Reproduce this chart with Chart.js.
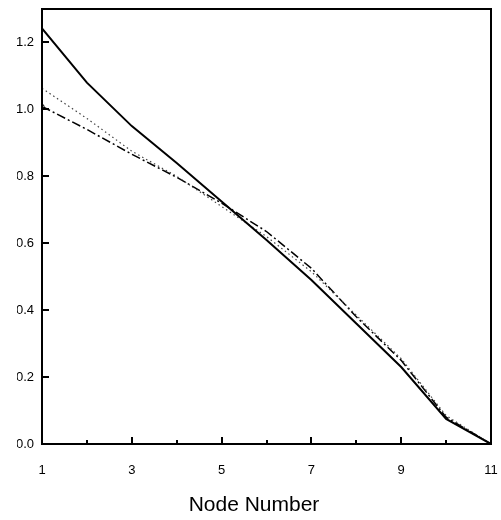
<!DOCTYPE html>
<html>
<head>
<meta charset="utf-8">
<script src="https://cdn.jsdelivr.net/npm/chart.js@4.4.1/dist/chart.umd.min.js"></script>
<style>
  body { margin: 0; background: #fff; }
  #grafico { display: block; }
</style>
</head>
<body>
<canvas id="grafico" width="501" height="520"></canvas>
<script>
const nodos = [1, 2, 3, 4, 5, 6, 7, 8, 9, 10, 11]
const serieSolida = [1.242, 1.08, 0.95, 0.84, 0.725, 0.61, 0.49, 0.36, 0.23, 0.075, 0]
const seriePuntos = [1.063, 0.973, 0.875, 0.80, 0.71, 0.62, 0.515, 0.385, 0.255, 0.085, 0]
const serieRaya = [1.009, 0.94, 0.866, 0.797, 0.72, 0.635, 0.525, 0.38, 0.25, 0.08, 0]
const ticksY = [0, 0.2, 0.4, 0.6, 0.8, 1.0, 1.2]
const ticksX = [1, 2, 3, 4, 5, 6, 7, 8, 9, 10, 11]
const etiquetasX = [1, 3, 5, 7, 9, 11]

const toPoints = (ys) => nodos.map((n, i) => ({ x: n, y: ys[i] }))

// marco y marcas hacia adentro
const marco = {
  id: 'marco',
  afterDraw(chart) {
    const { ctx, chartArea: a, scales } = chart
    ctx.save()
    ctx.strokeStyle = '#000'
    ctx.lineWidth = 2
    ctx.strokeRect(a.left, a.top, a.right - a.left, a.bottom - a.top)
    ctx.beginPath()
    ticksX.forEach(v => {
      const px = Math.round(scales.x.getPixelForValue(v))
      const largo = etiquetasX.includes(v) ? 7 : 4
      ctx.moveTo(px, a.bottom)
      ctx.lineTo(px, a.bottom - largo)
    })
    ticksY.forEach(v => {
      const py = Math.round(scales.y.getPixelForValue(v))
      ctx.moveTo(a.left, py)
      ctx.lineTo(a.left + 7, py)
    })
    ctx.stroke()
    ctx.restore()
  }
}

const sinRelleno = (s) => {
  s.paddingTop = 0
  s.paddingBottom = 0
  s.paddingLeft = 0
  s.paddingRight = 0
}

new Chart(document.getElementById('grafico'), {
  type: 'line',
  data: {
    datasets: [
      {
        data: toPoints(serieSolida),
        borderColor: '#000',
        borderWidth: 2,
        pointRadius: 0,
        tension: 0
      },
      {
        data: toPoints(seriePuntos),
        borderColor: '#444',
        borderWidth: 1.2,
        borderDash: [1.5, 3],
        pointRadius: 0,
        tension: 0
      },
      {
        data: toPoints(serieRaya),
        borderColor: '#000',
        borderWidth: 1.5,
        borderDash: [9, 3, 2, 3],
        pointRadius: nodos.map((n, i) => i === 0 ? 2 : 0),
        pointBackgroundColor: '#fff',
        pointBorderColor: '#000',
        pointBorderWidth: 1,
        tension: 0
      }
    ]
  },
  options: {
    responsive: false,
    animation: false,
    layout: { padding: { top: 9, right: 10, left: 17, bottom: 0 } },
    plugins: {
      legend: { display: false },
      tooltip: { enabled: false },
      title: {
        display: true,
        position: 'bottom',
        text: 'Node Number',
        color: '#000',
        padding: { top: 0, bottom: 2 },
        font: { family: 'Liberation Sans, Arial, sans-serif', size: 21, weight: 'normal' }
      }
    },
    scales: {
      x: {
        type: 'linear',
        min: 1,
        max: 11,
        afterBuildTicks: (s) => { s.ticks = ticksX.map(v => ({ value: v })) },
        afterFit: (s) => { s.height = 48.8; sinRelleno(s) },
        grid: { display: false, drawTicks: false },
        border: { display: false },
        ticks: {
          color: '#000',
          padding: 19,
          maxRotation: 0,
          autoSkip: false,
          font: { family: 'Liberation Sans, Arial, sans-serif', size: 13 },
          callback: (v) => etiquetasX.includes(v) ? String(v) : ''
        }
      },
      y: {
        min: 0,
        max: 1.3,
        afterBuildTicks: (s) => { s.ticks = ticksY.map(v => ({ value: v })) },
        afterFit: (s) => { s.width = 25; sinRelleno(s) },
        grid: { display: false, drawTicks: false },
        border: { display: false },
        ticks: {
          color: '#000',
          padding: 8,
          font: { family: 'Liberation Sans, Arial, sans-serif', size: 13 },
          callback: (v) => Number(v).toFixed(1)
        }
      }
    }
  },
  plugins: [marco]
})
</script>
</body>
</html>
